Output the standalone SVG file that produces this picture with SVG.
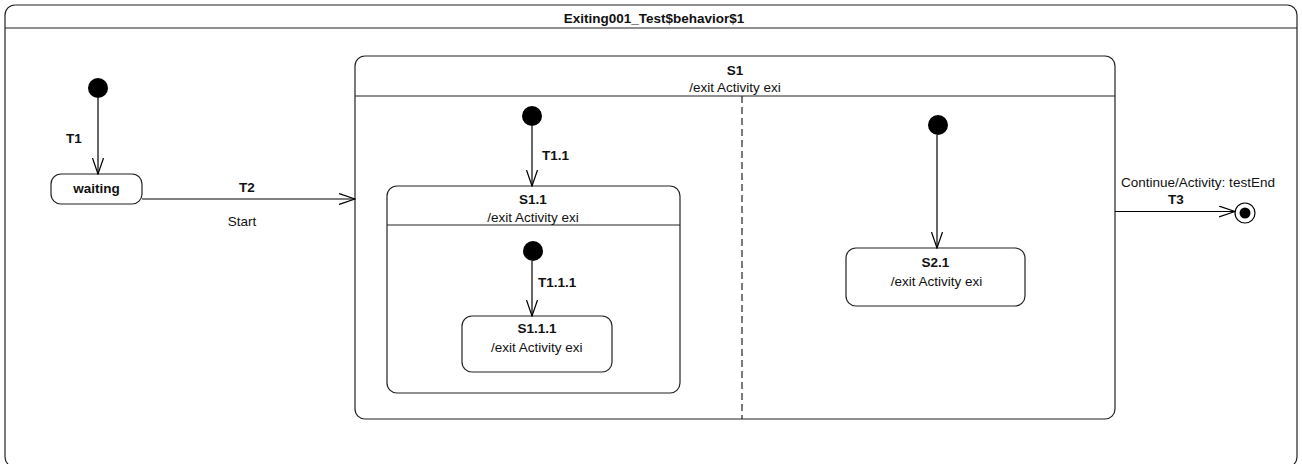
<svg xmlns="http://www.w3.org/2000/svg" width="1302" height="464" viewBox="0 0 1302 464">
<style>
.box{fill:#fff;stroke:#222;stroke-width:1.2}
.ln{stroke:#222;stroke-width:1.2;fill:none}
.edge{stroke:#000;stroke-width:1.2;fill:none}
.init{fill:#000}
text{font-family:"Liberation Sans",Arial,sans-serif;font-size:13.5px;fill:#111}
.b{font-weight:bold}
.c{text-anchor:middle}
</style>
<defs>
<marker id="arr" viewBox="0 0 17 12" refX="16.5" refY="6" markerWidth="17" markerHeight="12" markerUnits="userSpaceOnUse" orient="auto">
<path d="M0.5,0.5 L16.5,6 L0.5,11.5" fill="none" stroke="#000" stroke-width="1.2"/>
</marker>
<clipPath id="clip111"><rect x="462" y="316" width="122" height="56"/></clipPath>
</defs>
<rect x="0" y="0" width="1302" height="464" fill="#fff"/>
<g id="frame">
<rect class="box" x="5" y="5" width="1292" height="462" rx="10"/>
<line class="ln" x1="5" y1="28" x2="1297" y2="28"/>
<text class="b c" x="654" y="23">Exiting001_Test$behavior$1</text>
</g>
<g id="S1">
<rect class="box" x="355" y="56" width="760" height="363" rx="10"/>
<line class="ln" x1="355" y1="96" x2="1115" y2="96"/>
<text class="b c" x="735" y="75">S1</text>
<text class="c" x="735" y="92">/exit Activity exi</text>
<line class="ln" x1="742" y1="96" x2="742" y2="419" stroke-dasharray="7,4"/>
</g>
<g id="init0"><circle class="init" cx="98" cy="88" r="10"/></g>
<g id="waiting">
<rect class="box" x="51" y="174" width="91" height="30" rx="10"/>
<text class="b c" x="96.5" y="193">waiting</text>
</g>
<g id="init1"><circle class="init" cx="532" cy="116" r="10"/></g>
<g id="S1.1">
<rect class="box" x="387" y="186" width="293" height="207" rx="10"/>
<line class="ln" x1="387" y1="225" x2="680" y2="225"/>
<text class="b c" x="533" y="204">S1.1</text>
<text class="c" x="533" y="222">/exit Activity exi</text>
</g>
<g id="init2"><circle class="init" cx="533" cy="251" r="10"/></g>
<g id="S1.1.1">
<rect class="box" x="462" y="316" width="150" height="56" rx="10"/>
<text class="b c" x="537" y="333">S1.1.1</text>
<text x="491" y="351.5" clip-path="url(#clip111)">/exit Activity exi</text>
</g>
<g id="init3"><circle class="init" cx="938" cy="125" r="10"/></g>
<g id="S2.1">
<rect class="box" x="846" y="248" width="179" height="58" rx="10"/>
<text class="b c" x="935.5" y="267">S2.1</text>
<text class="c" x="936.5" y="286">/exit Activity exi</text>
</g>
<g id="final">
<circle cx="1245" cy="213" r="10" fill="#fff" stroke="#000" stroke-width="1.2"/>
<circle cx="1245" cy="213" r="5.5" fill="#000"/>
</g>
<g id="connectors">
<line class="edge" x1="98" y1="98" x2="98" y2="174" marker-end="url(#arr)"/>
<text class="b c" x="74" y="143">T1</text>
<line class="edge" x1="142" y1="199" x2="355" y2="199" marker-end="url(#arr)"/>
<text class="b c" x="247" y="192">T2</text>
<text class="c" x="242" y="225.5">Start</text>
<line class="edge" x1="532" y1="126" x2="532" y2="186" marker-end="url(#arr)"/>
<text class="b" x="542" y="160">T1.1</text>
<line class="edge" x1="532" y1="261" x2="532" y2="316" marker-end="url(#arr)"/>
<text class="b" x="538" y="287">T1.1.1</text>
<line class="edge" x1="937" y1="135" x2="937" y2="248" marker-end="url(#arr)"/>
<line class="edge" x1="1115" y1="211.5" x2="1235" y2="211.5" marker-end="url(#arr)"/>
<text class="c" x="1198" y="187">Continue/Activity: testEnd</text>
<text class="b c" x="1176" y="204">T3</text>
</g>
</svg>
